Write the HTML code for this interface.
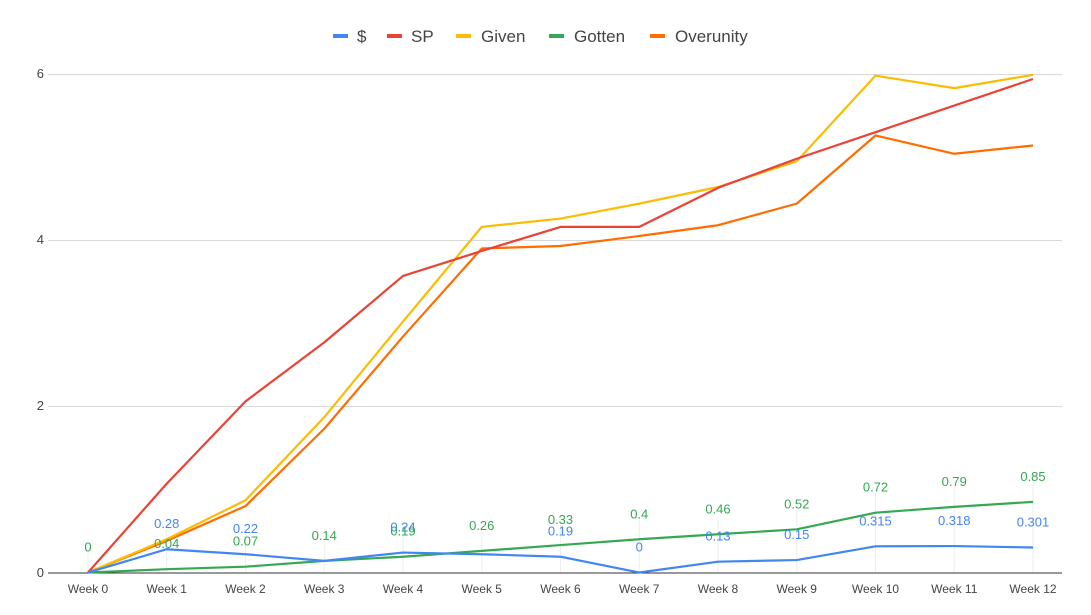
<!DOCTYPE html>
<html><head><meta charset="utf-8"><style>
html,body{margin:0;padding:0;background:#fff}
svg{display:block;font-family:"Liberation Sans",Arial,sans-serif}
</style></head><body>
<svg id="c" width="1091" height="615" xmlns="http://www.w3.org/2000/svg">
<g stroke="#d9d9d9" stroke-width="1">
<line x1="48" x2="1062" y1="74.5" y2="74.5"/>
<line x1="48" x2="1062" y1="240.5" y2="240.5"/>
<line x1="48" x2="1062" y1="406.5" y2="406.5"/>
</g>
<g fill="#444" font-size="13" text-anchor="end">
<text x="44" y="78">6</text><text x="44" y="244">4</text><text x="44" y="410">2</text><text x="44" y="577">0</text>
</g>
<g font-size="17" fill="#444">
<rect x="333" y="34" width="15" height="4" fill="#4285f4"/><text x="357" y="42">$</text>
<rect x="387" y="34" width="15" height="4" fill="#ea4335"/><text x="411" y="42">SP</text>
<rect x="456" y="34" width="15" height="4" fill="#fbbc04"/><text x="481" y="42">Given</text>
<rect x="549" y="34" width="15" height="4" fill="#34a853"/><text x="574" y="42">Gotten</text>
<rect x="650" y="34" width="15" height="4" fill="#ff6d01"/><text x="675" y="42">Overunity</text>
</g>
<g id="dyn"></g>
</svg>
<script>
var X=function(i){return 88+i*78.75},Y=function(v){return 572.5-v*83.08};
var S={
d:[0,0.28,0.22,0.14,0.24,0.22,0.19,0,0.13,0.15,0.315,0.318,0.301],
sp:[0,1.07,2.06,2.77,3.57,3.87,4.16,4.16,4.63,4.98,5.3,5.62,5.94],
gv:[0,0.4,0.87,1.87,3.02,4.16,4.26,4.44,4.64,4.95,5.98,5.83,5.99],
gt:[0,0.04,0.07,0.14,0.19,0.26,0.33,0.4,0.46,0.52,0.72,0.79,0.85],
ov:[0,0.38,0.8,1.73,2.84,3.9,3.93,4.05,4.18,4.44,5.26,5.04,5.14]};
var h='';
// stems
for(var i=0;i<13;i++){var a=Math.min(Y(S.d[i]),Y(S.gt[i]));h+='<line x1="'+X(i)+'" x2="'+X(i)+'" y1="572" y2="'+(a-20)+'" stroke="#eee" stroke-width="1"/>';}
h+='<line x1="48" x2="1062" y1="573" y2="573" stroke="#333" stroke-width="1"/>';
function pl(a,c){var p=a.map(function(v,i){return X(i)+','+Y(v)}).join(' ');return '<polyline points="'+p+'" fill="none" stroke="'+c+'" stroke-width="2.2" stroke-linejoin="round"/>';}
h+=pl(S.ov,'#ff6d01')+pl(S.gv,'#fbbc04')+pl(S.sp,'#ea4335')+pl(S.gt,'#34a853')+pl(S.d,'#4285f4');
var dl=['0','0.28','0.22','0.14','0.24','0.22','0.19','0','0.13','0.15','0.315','0.318','0.301'];
var gl=['0','0.04','0.07','0.14','0.19','0.26','0.33','0.4','0.46','0.52','0.72','0.79','0.85'];
for(var i=0;i<13;i++){
 if(i!=0&&i!=3&&i!=5) h+='<text x="'+X(i)+'" y="'+(Y(S.d[i])-21)+'" fill="#4285f4" font-size="13" text-anchor="middle">'+dl[i]+'</text>';
 h+='<text x="'+X(i)+'" y="'+(Y(S.gt[i])-21)+'" fill="#34a853" font-size="13" text-anchor="middle">'+gl[i]+'</text>';
 h+='<text x="'+X(i)+'" y="593" fill="#444" font-size="12" text-anchor="middle">Week '+i+'</text>';
}
document.getElementById('dyn').innerHTML=h;
</script>
</body></html>
